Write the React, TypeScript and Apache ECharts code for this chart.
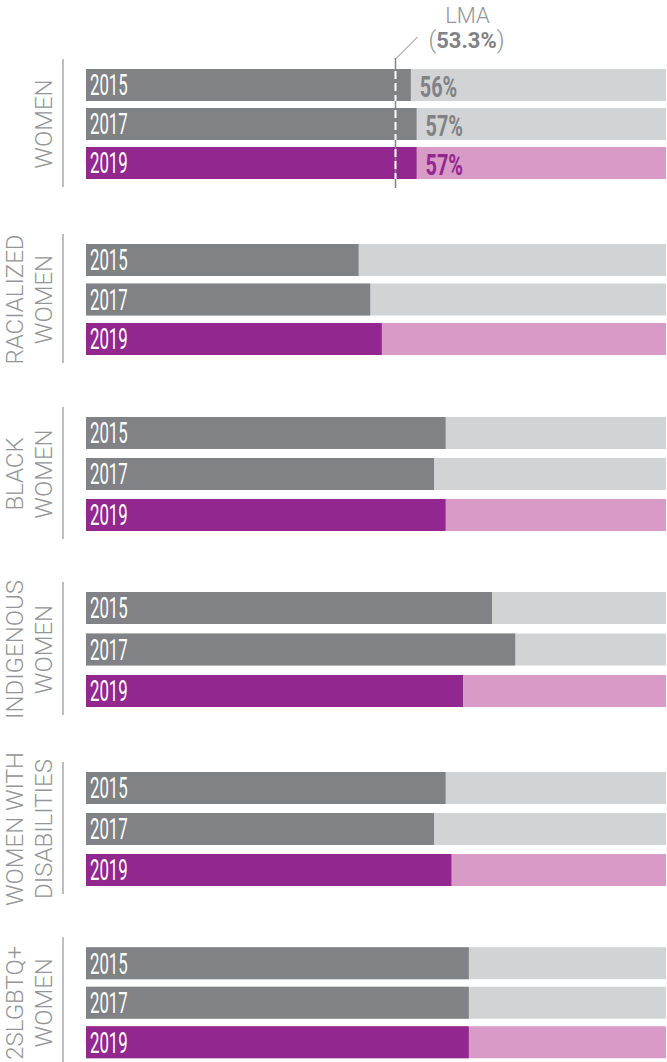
import React, { useEffect, useRef } from 'react';
import * as echarts from 'echarts';

// ---- data ----
const groupNames = [
  'WOMEN',
  'RACIALIZED\nWOMEN',
  'BLACK\nWOMEN',
  'INDIGENOUS\nWOMEN',
  'WOMEN WITH\nDISABILITIES',
  '2SLGBTQ+\nWOMEN',
];
const years = ['2015', '2017', '2019'];
const women = [56, 57, 57];
const racialized = [47, 49, 51];
const black = [62, 60, 62];
const indigenous = [70, 74, 65];
const disabilities = [62, 60, 63];
const lgbtq = [66, 66, 66];
const groupValues = [women, racialized, black, indigenous, disabilities, lgbtq];
const showPercent = [true, false, false, false, false, false];
const lmaValue = 53.3;
const lmaName = 'LMA';
const fullScale = 100;

// ---- layout / style ----
const firstBarTops = [69, 244, 417, 592, 772, 948];
const pitches = [39, 39.5, 41, 41.5, 41, 41];
const BAR_H = 32;
const GRID_LEFT = 86;
const GRID_W = 580;
const DARK = '#808285';
const LIGHT = '#d1d3d4';
const PURPLE = '#92278f';
const PINK = '#d89ac6';
const LABEL = '#939598';
const SEP = '#a7a9ac';
const FONT = 'Roboto, "Liberation Sans", sans-serif';

function buildOption() {
  const grid: any[] = [];
  const xAxis: any[] = [];
  const yAxis: any[] = [];
  const series: any[] = [];

  groupValues.forEach((vals, g) => {
    const pitch = pitches[g];
    grid.push({
      left: GRID_LEFT,
      width: GRID_W,
      top: firstBarTops[g] - (pitch - BAR_H) / 2,
      height: pitch * 3,
    });
    xAxis.push({ gridIndex: g, type: 'value', min: 0, max: fullScale, show: false });
    yAxis.push({ gridIndex: g, type: 'category', data: years, inverse: true, show: false });

    series.push({
      type: 'bar',
      xAxisIndex: g,
      yAxisIndex: g,
      barWidth: BAR_H,
      silent: true,
      data: years.map((_, i) => ({ value: fullScale, itemStyle: { color: i === 2 ? PINK : LIGHT } })),
    });
    series.push({
      type: 'bar',
      xAxisIndex: g,
      yAxisIndex: g,
      barWidth: BAR_H,
      barGap: '-100%',
      silent: true,
      data: vals.map((v, i) => ({ value: v, itemStyle: { color: i === 2 ? PURPLE : DARK } })),
    });
    series.push({
      type: 'custom',
      xAxisIndex: g,
      yAxisIndex: g,
      clip: false,
      silent: true,
      z: 5,
      encode: { x: 0, y: 1 },
      data: vals.map((v, i) => [v, i]),
      renderItem: (params: any, api: any) => {
        const idx = params.dataIndex;
        const val = api.value(0);
        const [x0, yc] = api.coord([0, idx]);
        const band = api.size([0, 1])[1];
        const children: any[] = [];
        // year label
        children.push({
          type: 'text',
          x: x0 + 4,
          y: yc,
          scaleX: 0.56,
          style: {
            text: years[idx],
            fill: '#ffffff',
            font: `400 30px ${FONT}`,
            align: 'left',
            verticalAlign: 'middle',
          },
        });
        if (showPercent[g]) {
          const xe = api.coord([val, idx])[0];
          children.push({
            type: 'text',
            x: xe + 9,
            y: yc + 1,
            scaleX: 0.66,
            style: {
              text: `${val}%`,
              fill: idx === 2 ? PURPLE : DARK,
              font: `bold 30px ${FONT}`,
              align: 'left',
              verticalAlign: 'middle',
            },
          });
          // LMA reference line
          const lx = Math.round(api.coord([lmaValue, idx])[0]) + 0.5;
          const top = idx === 0 ? yc - BAR_H / 2 - 11 : yc - band / 2;
          const bottom = idx === 2 ? yc + BAR_H / 2 + 9 : yc + band / 2;
          children.push({
            type: 'line',
            shape: { x1: lx, y1: top, x2: lx, y2: bottom },
            style: { stroke: DARK, lineWidth: 1.5 },
          });
          children.push({
            type: 'line',
            shape: { x1: lx, y1: yc - BAR_H / 2 + 2, x2: lx, y2: yc + BAR_H / 2 },
            style: { stroke: '#ffffff', lineWidth: 2, lineDash: [8, 4] },
          });
          if (idx === 0) {
            children.push({
              type: 'polyline',
              shape: { points: [[lx, top + 1], [lx + 22, top - 21]] },
              style: { stroke: DARK, lineWidth: 1, fill: 'none' },
            });
            children.push({
              type: 'text',
              x: lx + 72,
              y: top - 43,
              style: {
                text: lmaName,
                fill: LABEL,
                font: `300 22px ${FONT}`,
                align: 'center',
                verticalAlign: 'middle',
              },
            });
            children.push({
              type: 'text',
              x: lx + 71,
              y: top - 18,
              style: {
                text: `{p|(}{b|${lmaValue}%}{p|)}`,
                align: 'center',
                verticalAlign: 'middle',
                rich: {
                  p: { fill: LABEL, font: `300 24px ${FONT}` },
                  b: { fill: DARK, font: `bold 22px ${FONT}` },
                },
              },
            });
          }
        }
        if (idx === 0) {
          const yLast = api.coord([0, years.length - 1])[1];
          const sx = x0 - 23;
          children.push({
            type: 'line',
            shape: { x1: sx, y1: yc - BAR_H / 2 - 10, x2: sx, y2: yLast + BAR_H / 2 + 8 },
            style: { stroke: SEP, lineWidth: 1.5 },
          });
          children.push({
            type: 'text',
            x: sx - 5,
            y: (yc + yLast) / 2,
            rotation: Math.PI / 2,
            style: {
              text: groupNames[g],
              fill: LABEL,
              font: `300 24px ${FONT}`,
              lineHeight: 29,
              align: 'center',
              verticalAlign: 'bottom',
            },
          });
        }
        return { type: 'group', children };
      },
    });
  });

  return { animation: false, grid, xAxis, yAxis, series };
}

export default function App() {
  const ref = useRef<HTMLDivElement>(null);
  useEffect(() => {
    if (!ref.current) return;
    const chart = echarts.init(ref.current, undefined, { renderer: 'svg' });
    chart.setOption(buildOption() as any);
    return () => chart.dispose();
  }, []);
  return (
    <div
      ref={ref}
      style={{ position: 'absolute', left: 0, top: 0, width: 667, height: 1062, background: '#ffffff' }}
    />
  );
}
